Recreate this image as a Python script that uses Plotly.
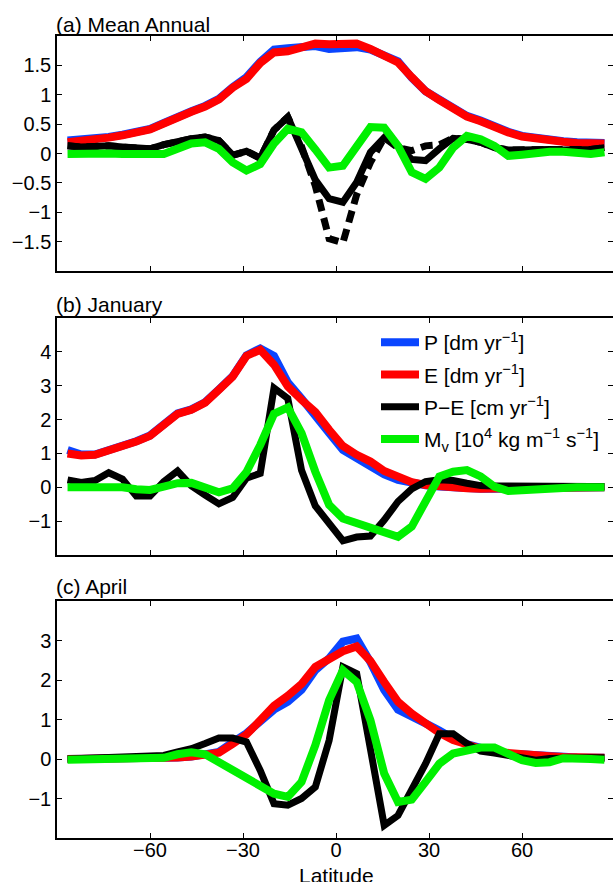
import plotly.graph_objects as go

# Latitude grid (Gaussian-like, 40 points)
lat = [-86.60, -82.19, -77.76, -73.32, -68.88, -64.43, -59.99, -55.55, -51.11, -46.66,
       -42.22, -37.77, -33.33, -28.89, -24.44, -20.00, -15.55, -11.11, -6.67, -2.22,
       2.22, 6.67, 11.11, 15.55, 20.00, 24.44, 28.89, 33.33, 37.77, 42.22,
       46.66, 51.11, 55.55, 59.99, 64.43, 68.88, 73.32, 77.76, 82.19, 86.60]

# (a) Mean Annual
P_ann = [0.22, 0.23, 0.25, 0.28, 0.32, 0.36, 0.42, 0.52, 0.63, 0.72, 0.81, 0.93, 1.13, 1.30, 1.56, 1.77, 1.79, 1.81, 1.83, 1.78,
         1.78, 1.81, 1.77, 1.68, 1.57, 1.29, 1.06, 0.92, 0.77, 0.64, 0.56, 0.46, 0.37, 0.30, 0.26, 0.23, 0.21, 0.19, 0.18, 0.18]
E_ann = [0.19, 0.21, 0.24, 0.27, 0.31, 0.35, 0.41, 0.51, 0.62, 0.71, 0.80, 0.92, 1.12, 1.27, 1.54, 1.72, 1.74, 1.80, 1.87, 1.86,
         1.87, 1.87, 1.78, 1.66, 1.55, 1.30, 1.06, 0.91, 0.76, 0.63, 0.55, 0.45, 0.36, 0.29, 0.25, 0.22, 0.20, 0.18, 0.17, 0.17]
PE_ann = [0.13, 0.11, 0.12, 0.13, 0.11, 0.09, 0.08, 0.15, 0.21, 0.25, 0.28, 0.22, -0.03, 0.04, -0.08, 0.40, 0.62, 0.12, -0.45, -0.77,
          -0.83, -0.49, 0.02, 0.27, 0.13, -0.10, -0.12, 0.08, 0.26, 0.24, 0.19, 0.10, 0.06, 0.06, 0.07, 0.07, 0.06, 0.06, 0.07, 0.10]
PE2_ann = [0.13, 0.11, 0.12, 0.13, 0.11, 0.09, 0.08, 0.15, 0.21, 0.25, 0.28, 0.22, -0.03, 0.04, -0.08, 0.40, 0.62, 0.12, -0.55, -1.45,
           -1.52, -0.70, -0.15, 0.27, 0.10, 0.05, 0.13, 0.15, 0.26, 0.24, 0.19, 0.10, 0.06, 0.06, 0.07, 0.07, 0.06, 0.06, 0.07, 0.10]
MV_ann = [-0.01, 0.00, 0.00, 0.00, -0.01, -0.02, -0.03, -0.01, 0.08, 0.17, 0.19, 0.08, -0.15, -0.29, -0.18, 0.17, 0.42, 0.36, 0.07, -0.24,
          -0.21, 0.12, 0.45, 0.44, 0.13, -0.32, -0.43, -0.24, 0.10, 0.30, 0.24, 0.13, -0.04, -0.02, 0.02, 0.03, 0.03, 0.01, -0.01, 0.02]

# (b) January
P_jan = [1.10, 0.97, 0.97, 1.09, 1.23, 1.36, 1.53, 1.85, 2.18, 2.30, 2.51, 2.89, 3.28, 3.90, 4.10, 3.88, 3.10, 2.62, 2.15, 1.60,
         1.10, 0.86, 0.62, 0.38, 0.22, 0.12, 0.06, 0.02, -0.01, -0.03, -0.04, -0.04, -0.03, -0.02, -0.01, 0.00, 0.00, 0.00, 0.00, 0.00]
E_jan = [1.00, 0.94, 0.96, 1.08, 1.22, 1.35, 1.52, 1.84, 2.17, 2.29, 2.50, 2.88, 3.27, 3.88, 4.06, 3.62, 2.98, 2.58, 2.22, 1.70,
         1.22, 0.96, 0.76, 0.48, 0.30, 0.15, 0.07, 0.02, -0.01, -0.03, -0.04, -0.04, -0.03, -0.02, -0.01, 0.00, 0.00, 0.00, 0.00, 0.00]
PE_jan = [0.22, 0.14, 0.20, 0.43, 0.24, -0.26, -0.26, 0.17, 0.48, 0.04, -0.23, -0.49, -0.30, 0.27, 0.41, 2.93, 2.62, 0.50, -0.55, -1.05,
          -1.58, -1.47, -1.44, -0.97, -0.42, -0.05, 0.17, 0.22, 0.20, 0.12, 0.05, 0.04, 0.03, 0.02, 0.02, 0.02, 0.02, 0.02, 0.02, 0.02]
MV_jan = [0.00, 0.00, 0.00, 0.01, 0.00, -0.06, -0.08, 0.02, 0.12, 0.13, 0.02, -0.15, -0.03, 0.45, 1.25, 2.17, 2.36, 1.60, 0.46, -0.52,
          -0.92, -1.06, -1.16, -1.36, -1.46, -1.16, -0.47, 0.32, 0.46, 0.51, 0.32, 0.02, -0.11, -0.08, -0.04, -0.02, 0.00, 0.00, 0.00, 0.00]

# (c) April
P_apr = [0.00, 0.00, 0.00, 0.01, 0.01, 0.02, 0.02, 0.03, 0.04, 0.06, 0.10, 0.18, 0.42, 0.65, 0.95, 1.25, 1.45, 1.75, 2.25, 2.55,
         2.97, 3.05, 2.45, 1.75, 1.25, 1.05, 0.90, 0.72, 0.52, 0.38, 0.28, 0.19, 0.14, 0.11, 0.08, 0.07, 0.05, 0.04, 0.03, 0.03]
E_apr = [0.00, 0.00, 0.00, 0.01, 0.01, 0.02, 0.02, 0.03, 0.04, 0.06, 0.10, 0.16, 0.38, 0.62, 0.98, 1.35, 1.60, 1.90, 2.33, 2.52,
         2.73, 2.85, 2.48, 1.95, 1.45, 1.15, 0.90, 0.66, 0.48, 0.35, 0.26, 0.18, 0.14, 0.11, 0.08, 0.07, 0.05, 0.04, 0.03, 0.03]
PE_apr = [0.00, 0.01, 0.02, 0.03, 0.04, 0.05, 0.06, 0.09, 0.18, 0.26, 0.39, 0.53, 0.53, 0.43, -0.29, -1.13, -1.17, -1.00, -0.71, 0.47,
          2.33, 2.16, 0.25, -1.68, -1.43, -0.79, -0.12, 0.64, 0.64, 0.39, 0.20, 0.15, 0.09, 0.01, -0.03, 0.01, 0.03, 0.03, 0.03, 0.03]
MV_apr = [-0.02, -0.02, -0.02, -0.01, -0.01, 0.00, 0.00, 0.03, 0.12, 0.17, 0.12, -0.07, -0.29, -0.50, -0.67, -0.88, -0.96, -0.58, 0.35, 1.49,
          2.25, 1.95, 0.98, -0.37, -1.09, -1.03, -0.58, -0.12, 0.14, 0.24, 0.29, 0.29, 0.14, -0.03, -0.10, -0.08, 0.02, 0.03, 0.00, -0.02]

x_ticks = [-60, -30, 0, 30, 60]
y_ticks = [[-1.5, -1, -0.5, 0, 0.5, 1, 1.5], [-1, 0, 1, 2, 3, 4], [-1, 0, 1, 2, 3]]
panel_titles = ["(a) Mean Annual", "(b) January", "(c) April"]
x_title = "Latitude"
legend_names = ["P [dm yr<sup>−1</sup>]", "E [dm yr<sup>−1</sup>]", "P−E [cm yr<sup>−1</sup>]",
                "M<sub>v</sub> [10<sup>4</sup> kg m<sup>−1</sup> s<sup>−1</sup>]"]

BLUE = "#0a45ff"
RED = "#ff0000"
BLACK = "#000000"
GREEN = "#00f000"

FONT = "Liberation Sans, Arial, Helvetica, sans-serif"

fig = go.Figure()

panels = [
    ("x", "y", P_ann, E_ann, PE_ann, MV_ann, PE2_ann),
    ("x2", "y2", P_jan, E_jan, PE_jan, MV_jan, None),
    ("x3", "y3", P_apr, E_apr, PE_apr, MV_apr, None),
]

for i, (xa, ya, P, E, PE, MV, PE2) in enumerate(panels):
    show = (i == 1)
    fig.add_trace(go.Scatter(x=lat, y=P, mode="lines", line=dict(color=BLUE, width=8),
                             name=legend_names[0], showlegend=show, legendgroup="g1",
                             xaxis=xa, yaxis=ya))
    fig.add_trace(go.Scatter(x=lat, y=E, mode="lines", line=dict(color=RED, width=8),
                             name=legend_names[1], showlegend=show, legendgroup="g2",
                             xaxis=xa, yaxis=ya))
    if PE2 is not None:
        fig.add_trace(go.Scatter(x=lat, y=PE2, mode="lines",
                                 line=dict(color=BLACK, width=7, dash="12px,7px"),
                                 showlegend=False, xaxis=xa, yaxis=ya))
    fig.add_trace(go.Scatter(x=lat, y=PE, mode="lines", line=dict(color=BLACK, width=7),
                             name=legend_names[2], showlegend=show, legendgroup="g3",
                             xaxis=xa, yaxis=ya))
    fig.add_trace(go.Scatter(x=lat, y=MV, mode="lines", line=dict(color=GREEN, width=8),
                             name=legend_names[3], showlegend=show, legendgroup="g4",
                             xaxis=xa, yaxis=ya))

W, H = 613, 882
mt, mb, ml, mr = 36, 44, 57, 0
ph = H - mt - mb

def pf(px):
    return (H - mb - px) / ph

domains = [(pf(271), 1.0), (pf(555), pf(318)), (0.0, pf(601))]
yranges = [[-2, 2], [-2, 5], [-2, 4]]

axis_common = dict(showline=True, linecolor="black", linewidth=1.5, mirror="ticks",
                   ticks="inside", ticklen=5, tickwidth=1, tickcolor="black",
                   showgrid=False, zeroline=False, automargin=False,
                   tickfont=dict(family=FONT, size=20, color="black"))

layout = dict(width=W, height=H, margin=dict(l=ml, r=mr, t=mt, b=mb, autoexpand=False),
              plot_bgcolor="white", paper_bgcolor="white",
              font=dict(family=FONT, size=20, color="black"),
              legend=dict(x=(376 - ml) / (W - ml - mr), y=pf(322), xanchor="left", yanchor="top",
                          bgcolor="rgba(0,0,0,0)", font=dict(family=FONT, size=21, color="black"),
                          tracegroupgap=2, itemwidth=38),
              annotations=[])

xr = [-90, -90 + 180 * (W - ml) / (615 - ml)]
for i in range(3):
    sx = "" if i == 0 else str(i + 1)
    layout["xaxis" + sx] = dict(axis_common, range=xr, tickvals=x_ticks, domain=[0, 1],
                                anchor="y" + sx, showticklabels=(i == 2))
    layout["yaxis" + sx] = dict(axis_common, range=yranges[i], tickvals=y_ticks[i],
                                domain=list(domains[i]), anchor="x" + sx)
    layout["annotations"].append(dict(text=panel_titles[i], xref="paper", yref="paper",
                                      x=0, y=domains[i][1], xanchor="left", yanchor="bottom",
                                      showarrow=False, xshift=-3, yshift=[-2, 0, 1][i],
                                      font=dict(family=FONT, size=21, color="black")))

layout["xaxis3"]["ticklabelstandoff"] = -7

# x-axis title placed like the reference (partly below the page edge)
layout["annotations"].append(dict(text=x_title, xref="x3", yref="paper", x=0, y=0,
                                  xanchor="center", yanchor="top", yshift=-24, showarrow=False,
                                  font=dict(family=FONT, size=21, color="black")))

fig.update_layout(**layout)
fig.write_html("out.html", config={"displayModeBar": False},
               post_script="document.body.style.margin='0';document.body.style.padding='0';")
